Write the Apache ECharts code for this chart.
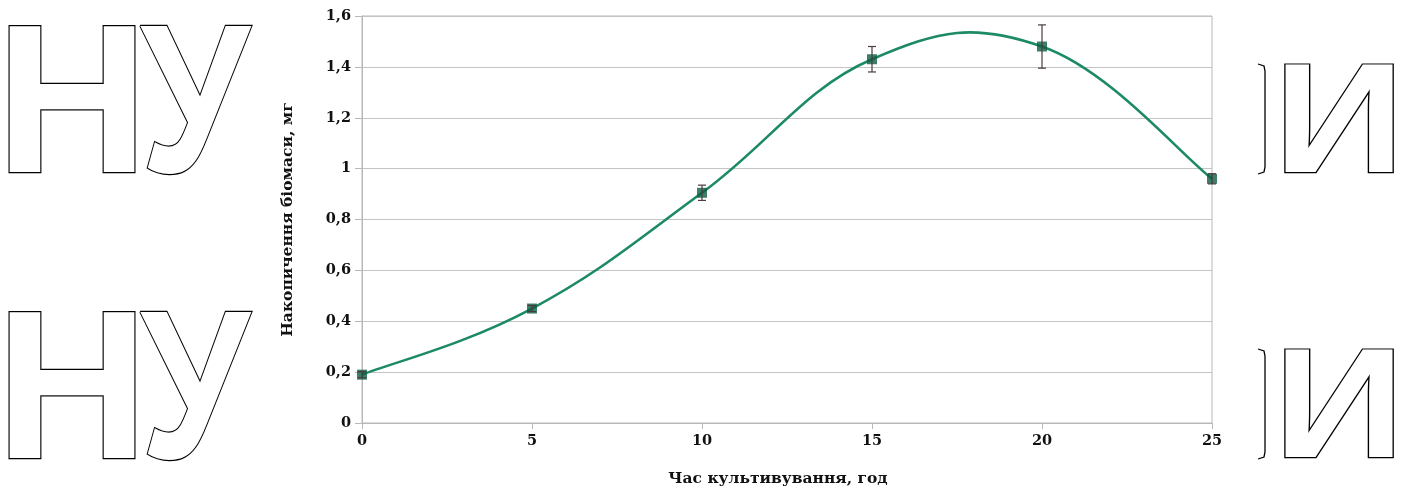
<!DOCTYPE html>
<html>
<head>
<meta charset="utf-8">
<script src="https://cdn.jsdelivr.net/npm/echarts@6/dist/echarts.min.js"></script>
<style>
html,body{margin:0;padding:0;background:#fff;}
#chart{width:1408px;height:493px;}
</style>
</head>
<body>
<div id="chart"></div>
<script>
// Data
const hours = [0, 5, 10, 15, 20, 25];
const biomass = [0.19, 0.45, 0.905, 1.43, 1.48, 0.96];
const errors = [0.012, 0.012, 0.03, 0.05, 0.085, 0.02];
const xAxisTitle = 'Час культивування, год';
const yAxisTitle = 'Накопичення біомаси, мг';
const watermarkLeft = ['Н', 'У'];
const watermarkRight = ['И'];

const TENSION = 0.2;
const labelFont = 'DejaVu Serif';

const points = hours.map((h, i) => [h, biomass[i]]);
const errData = hours.map((h, i) => [h, biomass[i], errors[i]]);

function wmText(ch, cx, cy, size, sx) {
  return {
    type: 'text', z: -10, silent: true,
    x: cx, y: cy, scaleX: sx || 1,
    style: {
      text: ch, x: 0, y: 0,
      font: 'bold ' + size + 'px "Liberation Sans"',
      fill: '#fff', stroke: '#000', lineWidth: 2.4,
      textAlign: 'center', textVerticalAlign: 'middle'
    }
  };
}
function wmBracket(x, y0, y1) {
  return {
    type: 'polyline', z: -10, silent: true,
    shape: {points: [[x - 7, y0], [x - 1, y0 + 2], [x, y0 + 7], [x, y1 - 7], [x - 1, y1 - 2], [x - 7, y1]]},
    style: {stroke: '#000', lineWidth: 1.3, fill: null}
  };
}

const chart = echarts.init(document.getElementById('chart'), null, {renderer: 'canvas'});
chart.setOption({
  animation: false,
  backgroundColor: '#fff',
  graphic: [
    wmText(watermarkLeft[0], 72, 114, 212),
    wmText(watermarkLeft[1], 195, 114, 212, 0.83),
    wmText(watermarkLeft[0], 72, 400, 212),
    wmText(watermarkLeft[1], 195, 400, 212, 0.83),
    wmText(watermarkRight[0], 1339, 129, 156, 1.17),
    wmText(watermarkRight[0], 1339, 414, 156, 1.17),
    wmBracket(1265, 64, 174),
    wmBracket(1265, 349, 459)
  ],
  grid: {
    left: 362, right: 196, top: 16, bottom: 70,
    show: true, borderColor: '#b8b8b8', borderWidth: 1, backgroundColor: '#fff'
  },
  xAxis: {
    type: 'value', min: 0, max: 25, interval: 5,
    name: xAxisTitle, nameLocation: 'middle', nameGap: 48,
    nameTextStyle: {fontFamily: labelFont, fontWeight: 'bold', fontSize: 15.5, color: '#111', padding: [0, 18, 0, 0]},
    axisLine: {show: true, lineStyle: {color: '#b8b8b8'}},
    axisTick: {show: true, length: 6, lineStyle: {color: '#b8b8b8'}},
    axisLabel: {fontFamily: labelFont, fontWeight: 'bold', fontSize: 14.5, color: '#111', margin: 11},
    splitLine: {show: false}
  },
  yAxis: {
    type: 'value', min: 0, max: 1.6, interval: 0.2,
    name: yAxisTitle, nameLocation: 'middle', nameGap: 66,
    nameTextStyle: {fontFamily: labelFont, fontWeight: 'bold', fontSize: 15.5, color: '#111'},
    axisLine: {show: true, lineStyle: {color: '#b8b8b8'}},
    axisTick: {show: true, length: 7, lineStyle: {color: '#b8b8b8'}},
    axisLabel: {
      fontFamily: labelFont, fontWeight: 'bold', fontSize: 14.5, color: '#111', margin: 11,
      formatter: v => String(+v.toFixed(1)).replace('.', ',')
    },
    splitLine: {show: true, lineStyle: {color: '#c4c4c4'}}
  },
  series: [
    {
      type: 'custom', name: 'curve', z: 2,
      data: points,
      encode: {x: 0, y: 1},
      renderItem: function (params, api) {
        const i = params.dataIndex;
        const n = hours.length;
        if (i >= n - 1) return null;
        const P = j => {
          const k = Math.max(0, Math.min(n - 1, j));
          return api.coord([hours[k], biomass[k]]);
        };
        const p0 = P(i - 1), p1 = P(i), p2 = P(i + 1), p3 = P(i + 2);
        return {
          type: 'bezierCurve',
          shape: {
            x1: p1[0], y1: p1[1], x2: p2[0], y2: p2[1],
            cpx1: p1[0] + (p2[0] - p0[0]) * TENSION,
            cpy1: p1[1] + (p2[1] - p0[1]) * TENSION,
            cpx2: p2[0] - (p3[0] - p1[0]) * TENSION,
            cpy2: p2[1] - (p3[1] - p1[1]) * TENSION
          },
          style: {stroke: '#1c8a66', lineWidth: 2.6, fill: null}
        };
      }
    },
    {
      type: 'scatter', name: 'points', z: 3,
      data: points,
      symbol: 'rect', symbolSize: 10,
      itemStyle: {color: '#0e5c40'}
    },
    {
      type: 'custom', name: 'errors', z: 4,
      data: errData,
      encode: {x: 0, y: 1},
      renderItem: function (params, api) {
        const x = api.value(0), y = api.value(1), e = api.value(2);
        const top = api.coord([x, y + e]);
        const bot = api.coord([x, y - e]);
        const hw = 4;
        const st = {stroke: '#4a3a40', lineWidth: 1.2};
        return {
          type: 'group',
          children: [
            {type: 'line', shape: {x1: top[0], y1: top[1], x2: bot[0], y2: bot[1]}, style: st},
            {type: 'line', shape: {x1: top[0] - hw, y1: top[1], x2: top[0] + hw, y2: top[1]}, style: st},
            {type: 'line', shape: {x1: bot[0] - hw, y1: bot[1], x2: bot[0] + hw, y2: bot[1]}, style: st}
          ]
        };
      }
    }
  ]
});
</script>
</body>
</html>
